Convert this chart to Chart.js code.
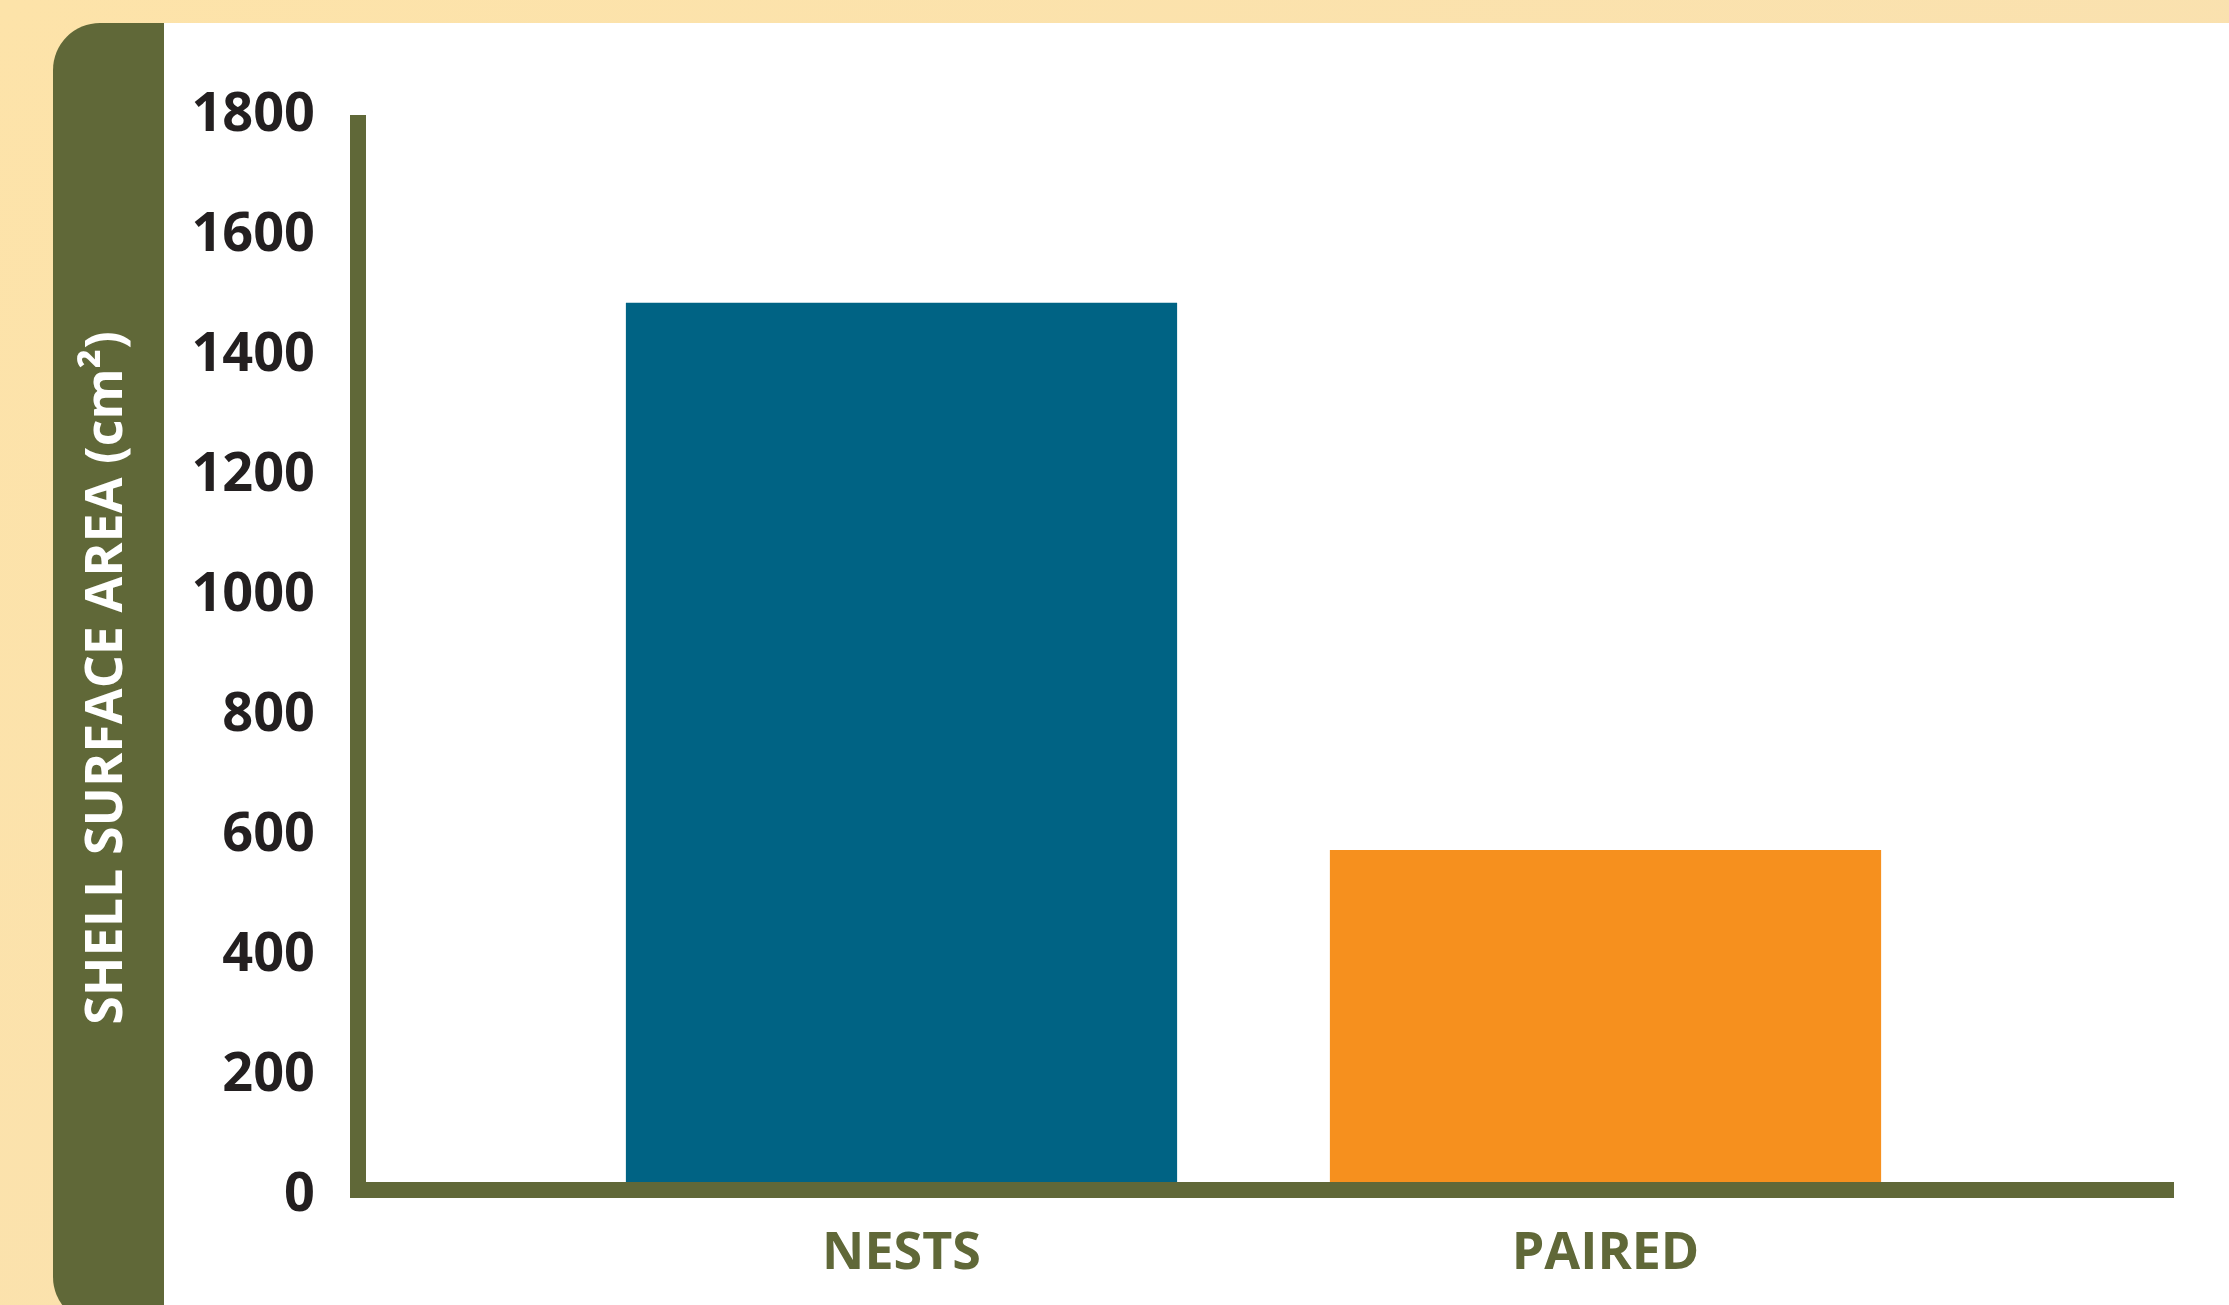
<!DOCTYPE html>
<html>
<head>
<meta charset="utf-8">
<script src="https://cdn.jsdelivr.net/npm/chart.js@4.4.1/dist/chart.umd.min.js"></script>
<style>
    html, body {
        margin: 0;
        padding: 0;
        width: 2229px;
        height: 1305px;
        overflow: hidden;
        background: linear-gradient(135deg, #fde3a9 0%, #f8e0b2 100%);
        position: relative;
    }
    #panel {
        position: absolute;
        left: 53px;
        top: 23px;
        width: 2176px;
        height: 1301px;
        background: linear-gradient(to right, #606838 0px, #606838 111px, #ffffff 111px);
        border-radius: 47px 0 0 47px;
    }
    #chartBox {
        position: absolute;
        left: 0;
        top: 0;
        width: 2229px;
        height: 1305px;
    }
</style>
</head>
<body>
<div id="panel"></div>
<div id="chartBox"><canvas id="shellChart" width="2229" height="1305"></canvas></div>
<script>
const categories = ['NESTS', 'PAIRED'];
const surfaceArea = [1482, 570];
const barColors = ['#006384', '#f6901e'];
const yTitle = 'SHELL SURFACE AREA (cm\u00b2)';
const yMin = 0;
const yMax = 1800;
const yStep = 200;

const olive = '#606838';

// draws the thick L-shaped axis and the rotated title on the green band
const axisFrame = {
    id: 'axisFrame',
    afterDatasetsDraw: function(chart) {
        const ctx = chart.ctx;
        const y = chart.scales.y;
        const area = chart.chartArea;
        const zeroY = y.getPixelForValue(yMin);
        const topY = y.getPixelForValue(yMax);
        ctx.save();
        ctx.fillStyle = olive;
        ctx.fillRect(area.left - 199.5, topY + 3, 16, zeroY - topY + 3);
        ctx.fillRect(area.left - 199.5, zeroY - 10, area.right - area.left + 416, 16);
        ctx.restore();
    },
    afterDraw: function(chart) {
        const ctx = chart.ctx;
        ctx.save();
        ctx.translate(107, 678);
        ctx.rotate(-Math.PI / 2);
        ctx.fillStyle = '#ffffff';
        ctx.font = 'bold 52px "Open Sans"';
        ctx.textAlign = 'center';
        ctx.textBaseline = 'middle';
        ctx.fillText(yTitle, 0, 0);
        ctx.restore();
    }
};

new Chart(document.getElementById('shellChart'), {
    type: 'bar',
    data: {
        labels: categories,
        datasets: [{
            label: yTitle,
            data: surfaceArea,
            backgroundColor: barColors,
            borderWidth: 0,
            barPercentage: 0.783,
            categoryPercentage: 1
        }]
    },
    options: {
        responsive: false,
        animation: false,
        layout: {
            padding: {
                left: 0,
                right: 271.5,
                top: 112,
                bottom: 0
            }
        },
        plugins: {
            legend: { display: false },
            tooltip: { enabled: false },
            title: { display: false }
        },
        scales: {
            x: {
                grid: { display: false, drawTicks: false },
                border: { display: false },
                ticks: {
                    color: olive,
                    padding: 31,
                    font: { family: 'Open Sans', weight: 'bold', size: 52 }
                },
                afterFit: function(scale) {
                    scale.height = 113;
                    scale.paddingLeft = 0;
                    scale.paddingRight = 0;
                }
            },
            y: {
                min: yMin,
                max: yMax,
                grid: { display: false, drawTicks: false },
                border: { display: false },
                ticks: {
                    stepSize: yStep,
                    color: '#231f20',
                    padding: 234.5,
                    labelOffset: 4,
                    font: { family: 'Open Sans', weight: 'bold', size: 54 },
                    callback: function(value) {
                        return String(value);
                    }
                },
                afterFit: function(scale) {
                    scale.width = 549.5;
                    scale.paddingTop = 0;
                    scale.paddingBottom = 0;
                }
            }
        }
    },
    plugins: [axisFrame]
});
</script>
</body>
</html>
